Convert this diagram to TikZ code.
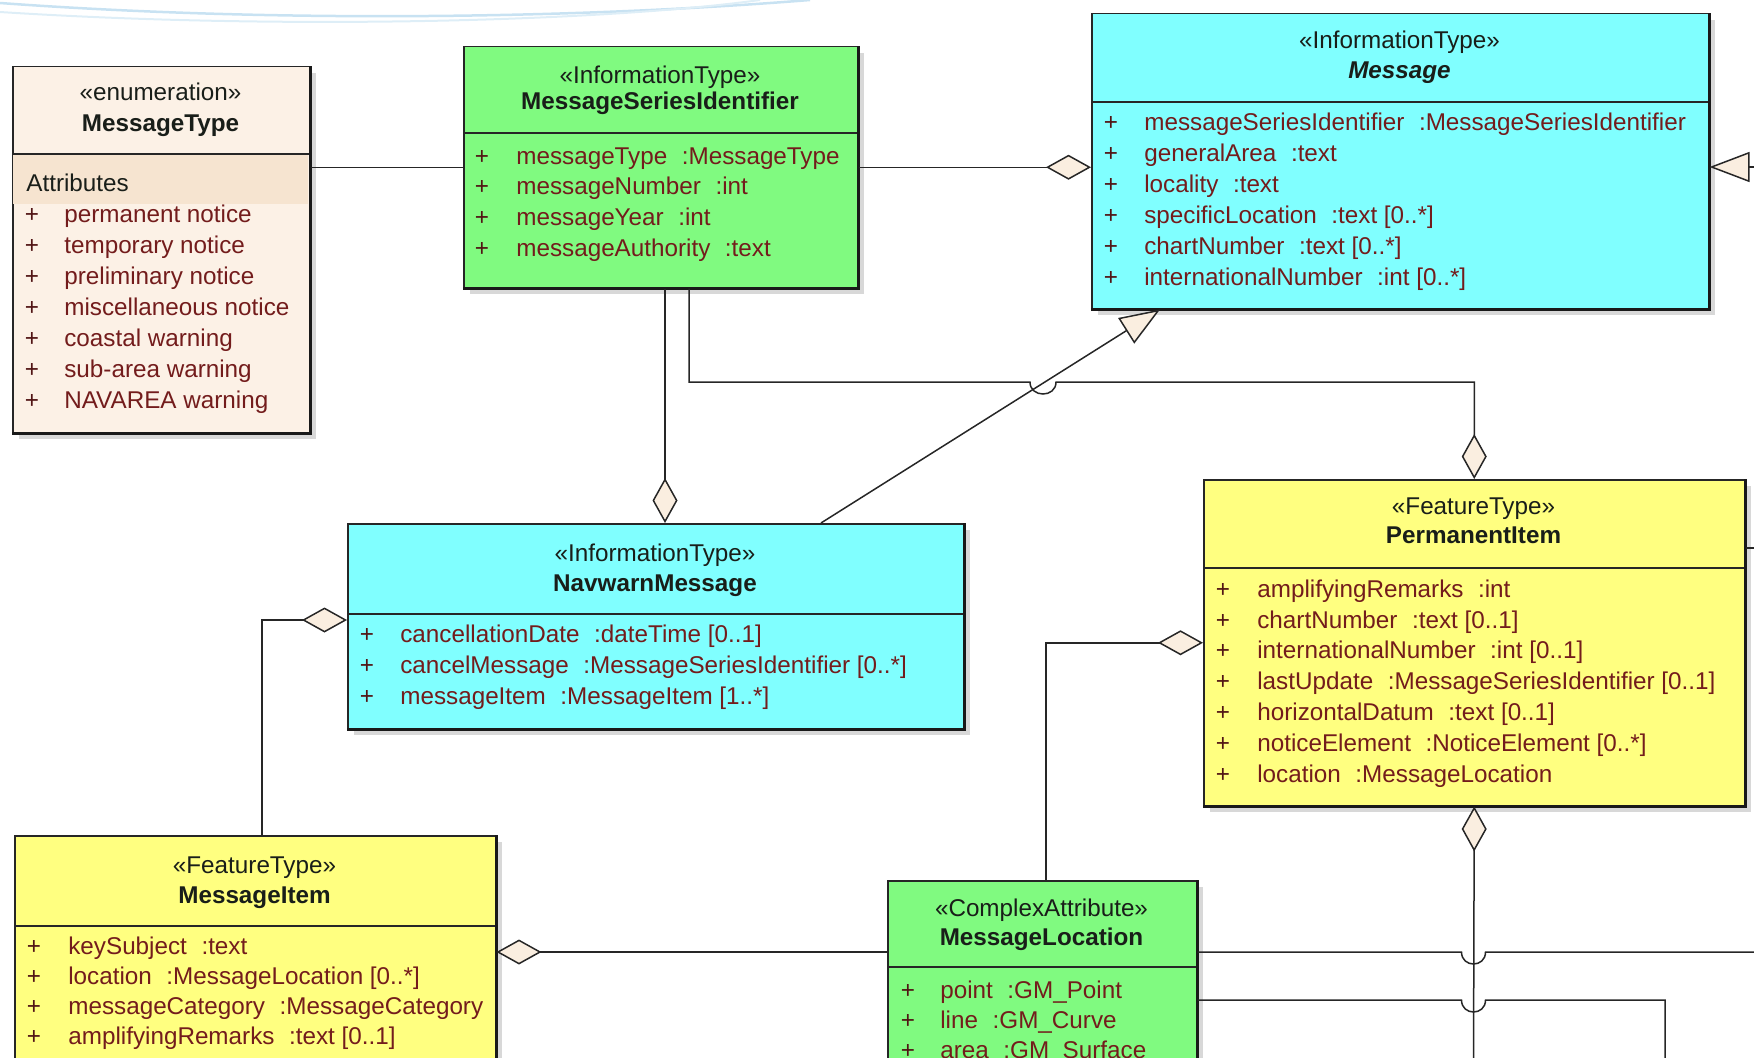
\documentclass[tikz,border=0pt]{standalone}
\usepackage{fontspec}
\setmainfont{Liberation Sans}
\usepackage{xcolor}
\usepackage{tikz}
\usetikzlibrary{arrows.meta,shadows,calc}
\definecolor{enumfill}{RGB}{252,241,230}
\definecolor{enumband}{RGB}{246,228,208}
\definecolor{infogreen}{RGB}{128,250,128}
\definecolor{infocyan}{RGB}{128,255,255}
\definecolor{featyellow}{RGB}{255,255,128}
\definecolor{attrtext}{RGB}{115,28,28}
\definecolor{nametext}{RGB}{25,30,25}
\definecolor{tipfill}{RGB}{250,238,224}
\definecolor{slideblue}{RGB}{200,226,242}
\newcommand{\tsep}{\hspace{0.6em}}
\tikzset{
  classbox/.style={draw=black!85,line width=0.3mm,anchor=north west,inner sep=0pt,
    drop shadow={shadow xshift=1.2mm,shadow yshift=-1.2mm,fill=black!30}},
  boxedge/.style={black!90,line width=0.6mm},
  divline/.style={black!85,line width=0.3mm},
  txt/.style={font=\fontsize{13.8}{16}\selectfont,inner sep=0pt,text height=3.5mm,text depth=1mm},
  stereo/.style={txt,text=nametext},
  cname/.style={txt,text=nametext,font=\fontsize{13.8}{16}\selectfont\bfseries},
  plussign/.style={txt,text=attrtext!70!black},
  attr/.style={txt,text=attrtext,anchor=west},
  link/.style={black!85,line width=0.3mm},
  agg/.style={link,-{Diamond[length=9mm,width=5mm,fill=tipfill]}},
  aggstart/.style={link,{Diamond[length=9mm,width=5mm,fill=tipfill]}-},
  gen/.style={link,-{Triangle[length=8mm,width=6mm,fill=tipfill]}},
}
\begin{document}
\begin{tikzpicture}[x=0.2mm,y=-0.2mm]
  \useasboundingbox (0,0) rectangle (1754,1058);
  \clip (0,0) rectangle (1754,1058);
  % adorno de la diapositiva
  \draw[slideblue,line width=0.5mm] (0,3) .. controls (260,22) and (560,20) .. (810,0);
  \draw[slideblue!60,line width=0.4mm] (0,12) .. controls (280,30) and (600,22) .. (760,0);

  % MessageType
  \node[classbox,fill=enumfill,minimum width=59.4mm,minimum height=73.2mm] (mtype) at (12,66) {};
  \fill[enumband] (13,155) rectangle (308,204);
  \draw[divline] (12,154) -- (309,154);
  \node[stereo] (mtype-s) at (160.5,94) {«enumeration»};
  \node[cname] (mtype-n) at (160.5,125) {MessageType};
  \node[attr,text=nametext] (mtype-h) at (26,185) {Attributes};
  \foreach \t [count=\i] in {permanent notice,temporary notice,preliminary notice,
    miscellaneous notice,coastal warning,sub-area warning,NAVAREA warning}{
    \node[plussign] (mtype-p\i) at (32,185+31*\i) {+};
    \node[attr] (mtype-a\i) at (64,185+31*\i) {\t};
  }

  % MessageSeriesIdentifier
  \node[classbox,fill=infogreen,minimum width=78.8mm,minimum height=48.2mm] (msid) at (463,46) {};
  \draw[divline] (463,133) -- (857,133);
  \node[stereo] (msid-s) at (660,77) {«InformationType»};
  \node[cname] (msid-n) at (660,103) {MessageSeriesIdentifier};
  \foreach \t [count=\i] in {messageType\tsep:MessageType,messageNumber\tsep:int,
    messageYear\tsep:int,messageAuthority\tsep:text}{
    \node[plussign] (msid-p\i) at (482,127.3+30.7*\i) {+};
    \node[attr] (msid-a\i) at (516,127.3+30.7*\i) {\t};
  }

  % Message
  \node[classbox,fill=infocyan,minimum width=123.4mm,minimum height=59mm] (msg) at (1091,13) {};
  \draw[divline] (1091,102) -- (1708,102);
  \node[stereo] (msg-s) at (1399.5,42) {«InformationType»};
  \node[cname,font=\fontsize{13.8}{16}\selectfont\bfseries\itshape] (msg-n) at (1399.5,72) {Message};
  \foreach \t [count=\i] in {messageSeriesIdentifier\tsep:MessageSeriesIdentifier,
    generalArea\tsep:text,locality\tsep:text,specificLocation\tsep:text [0..*],
    chartNumber\tsep:text [0..*],internationalNumber\tsep:int [0..*]}{
    \node[plussign] (msg-p\i) at (1111,93+31*\i) {+};
    \node[attr] (msg-a\i) at (1144,93+31*\i) {\t};
  }

  % NavwarnMessage
  \node[classbox,fill=infocyan,minimum width=123.2mm,minimum height=41mm] (navw) at (347,523) {};
  \draw[divline] (347,614) -- (963,614);
  \node[stereo] (navw-s) at (655,555) {«InformationType»};
  \node[cname] (navw-n) at (655,585) {NavwarnMessage};
  \foreach \t [count=\i] in {cancellationDate\tsep:dateTime [0..1],
    cancelMessage\tsep:MessageSeriesIdentifier [0..*],messageItem\tsep:MessageItem [1..*]}{
    \node[plussign] (navw-p\i) at (367,605+31*\i) {+};
    \node[attr] (navw-a\i) at (400,605+31*\i) {\t};
  }

  % PermanentItem
  \node[classbox,fill=featyellow,minimum width=108.2mm,minimum height=65.2mm] (perm) at (1203,479) {};
  \draw[divline] (1203,568) -- (1744,568);
  \node[stereo] (perm-s) at (1473.5,508) {«FeatureType»};
  \node[cname] (perm-n) at (1473.5,537) {PermanentItem};
  \foreach \t [count=\i] in {amplifyingRemarks\tsep:int,chartNumber\tsep:text [0..1],
    internationalNumber\tsep:int [0..1],lastUpdate\tsep:MessageSeriesIdentifier [0..1],
    horizontalDatum\tsep:text [0..1],noticeElement\tsep:NoticeElement [0..*],
    location\tsep:MessageLocation}{
    \node[plussign] (perm-p\i) at (1223,560.2+30.8*\i) {+};
    \node[attr] (perm-a\i) at (1257,560.2+30.8*\i) {\t};
  }

  % MessageItem
  \node[classbox,fill=featyellow,minimum width=96.2mm,minimum height=49mm] (mitem) at (14,835) {};
  \draw[divline] (14,926) -- (495,926);
  \node[stereo] (mitem-s) at (254.5,867) {«FeatureType»};
  \node[cname] (mitem-n) at (254.5,897) {MessageItem};
  \foreach \t [count=\i] in {keySubject\tsep:text,location\tsep:MessageLocation [0..*],
    messageCategory\tsep:MessageCategory,amplifyingRemarks\tsep:text [0..1]}{
    \node[plussign] (mitem-p\i) at (34,918+30*\i) {+};
    \node[attr] (mitem-a\i) at (68,918+30*\i) {\t};
  }

  % MessageLocation
  \node[classbox,fill=infogreen,minimum width=61.8mm,minimum height=40mm] (mloc) at (887,880) {};
  \draw[divline] (887,967) -- (1196,967);
  \node[stereo] (mloc-s) at (1041.5,910) {«ComplexAttribute»};
  \node[cname] (mloc-n) at (1041.5,939) {MessageLocation};
  \foreach \t [count=\i] in {point\tsep:GM\_Point,line\tsep:GM\_Curve,area\tsep:GM\_Surface}{
    \node[plussign] (mloc-p\i) at (908,962+30*\i) {+};
    \node[attr] (mloc-a\i) at (940,962+30*\i) {\t};
  }

  \foreach \b in {mtype,msid,msg,navw,perm,mitem,mloc}
    \draw[boxedge] (\b.south west) -- (\b.south east) -- (\b.north east);

  % extremos libres
  \coordinate (permdown) at (1473.5,1070);
  \coordinate (locright) at (1770,952);
  \coordinate (locdown) at (1665,1070);
  \coordinate (permright) at (1770,548);
  \coordinate (msgright) at (1770,167);

  % conectores
  \draw[link] (mtype.east |- msid.west) -- (msid.west);
  \draw[agg] (msid.east) -- (msid.east -| msg.west);
  \draw[agg] (msid.south -| 665,0) -- (navw.north -| 665,0);
  \draw[agg] (msid.south -| 689,0) -- (689,382) -- (1030,382)
    .. controls (1030,398) and (1056,398) .. (1056,382) -- (perm.north |- 0,382) -- (perm.north);
  \draw[gen] (navw.north -| 821,0) -- (msg.south -| 1160,0);
  \draw[agg] (mitem.north -| 262,0) |- (navw.west |- 0,620);
  \draw[aggstart] (mitem.east |- 0,952) -- (mloc.west |- 0,952);
  \draw[agg] (mloc.north -| 1046,0) |- (perm.west);
  \draw[aggstart] (perm.south) -- (permdown);
  \draw[link] (mloc.east |- 0,952) -- (1461.5,952)
    .. controls (1461.5,968) and (1485.5,968) .. (1485.5,952) -- (locright);
  \draw[link] (mloc.east |- 0,1000) -- (1461.5,1000)
    .. controls (1461.5,1016) and (1485.5,1016) .. (1485.5,1000) -- (1665,1000) -- (locdown);
  \draw[link] (perm.east |- 0,548) -- (permright);
  \draw[gen] (msgright) -- (msg.east |- 0,167);
\end{tikzpicture}
\end{document}
